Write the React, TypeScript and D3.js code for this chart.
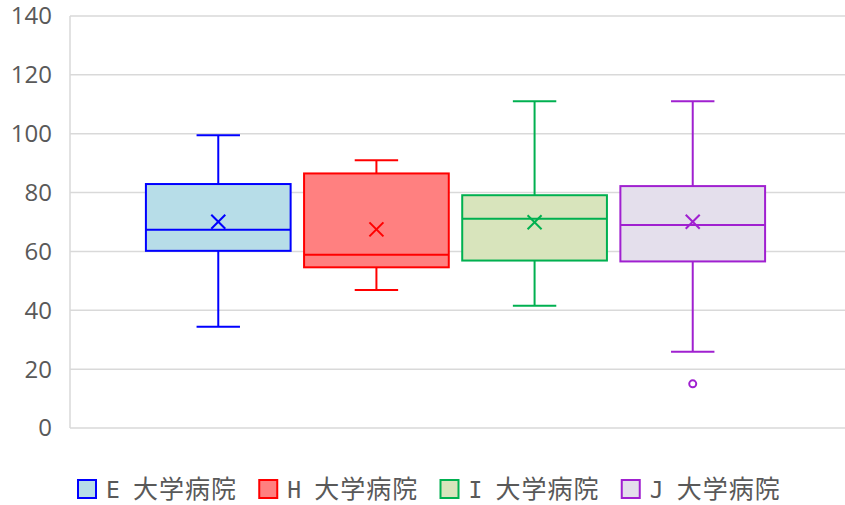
import React from 'react';
import * as d3 from 'd3';

const series = ['E 大学病院', 'H 大学病院', 'I 大学病院', 'J 大学病院'];
const mins = [34.4, 46.9, 41.5, 25.9];
const q1s = [60.2, 54.6, 56.9, 56.6];
const medians = [67.4, 58.9, 71.1, 69.0];
const q3s = [82.9, 86.5, 79.1, 82.2];
const maxs = [99.5, 91.0, 111.0, 111.0];
const means = [70.1, 67.5, 69.9, 70.1];
const outliers = [[], [], [], [15.0]];
const strokes = ['#0000ff', '#ff0000', '#00b050', '#a020d0'];
const fills = ['#b7dde8', '#ff8080', '#d8e4bc', '#e4dfec'];
const yTicks = [0, 20, 40, 60, 80, 100, 120, 140];

const W = 845;
const H = 505;
const left = 70;
const right = 841;
const top = 16;
const bottom = 428;
const font = '"Open Sans", "Noto Sans CJK JP", sans-serif';

const App = () => {
  const y = d3.scaleLinear().domain([0, 140]).range([bottom, top]);
  const x = d3.scaleBand<string>()
    .domain(series)
    .range([left, right])
    .paddingInner(0.085)
    .paddingOuter(0.48);
  const bw = x.bandwidth();
  const cap = bw * 0.3;

  // legend entries laid out on their own band scale
  const lx = d3.scaleBand<string>().domain(series).range([77, 802]);

  return (
    <svg width={W} height={H} style={{ position: 'absolute', left: 0, top: 0 }}>
      <rect width={W} height={H} fill="#fff" />
      {yTicks.map(t => (
        <g key={t}>
          <line x1={left} x2={W} y1={y(t)} y2={y(t)} stroke="#d9d9d9" strokeWidth={1.5} />
          <text x={52} y={y(t)} dy="0.35em" textAnchor="end" fontSize={24} fill="#595959" fontFamily={font}>
            {t}
          </text>
        </g>
      ))}
      <line x1={left} x2={left} y1={top} y2={bottom} stroke="#d9d9d9" strokeWidth={1.5} />
      {series.map((s, i) => {
        const x0 = x(s)!;
        const cx = x0 + bw / 2;
        const c = strokes[i];
        const my = y(means[i]);
        const m = 7;
        return (
          <g key={s} stroke={c} strokeWidth={2}>
            <line x1={cx} x2={cx} y1={y(maxs[i])} y2={y(q3s[i])} />
            <line x1={cx} x2={cx} y1={y(q1s[i])} y2={y(mins[i])} />
            <line x1={cx - cap / 2} x2={cx + cap / 2} y1={y(maxs[i])} y2={y(maxs[i])} />
            <line x1={cx - cap / 2} x2={cx + cap / 2} y1={y(mins[i])} y2={y(mins[i])} />
            <rect x={x0} y={y(q3s[i])} width={bw} height={y(q1s[i]) - y(q3s[i])} fill={fills[i]} />
            <line x1={x0} x2={x0 + bw} y1={y(medians[i])} y2={y(medians[i])} />
            <line x1={cx - m} x2={cx + m} y1={my - m} y2={my + m} />
            <line x1={cx - m} x2={cx + m} y1={my + m} y2={my - m} />
            {outliers[i].map((o, j) => (
              <circle key={j} cx={cx} cy={y(o)} r={3.5} fill="#fff" />
            ))}
          </g>
        );
      })}
      {series.map((s, i) => {
        const [letter, rest] = s.split(' ');
        return (
          <g key={s} transform={`translate(${lx(s)},489)`}>
            <rect x={1} y={-9} width={18} height={18} fill={fills[i]} stroke={strokes[i]} strokeWidth={2} />
            <text y={0} dy="0.35em" fontSize={25} fill="#595959" fontFamily={font}>
              <tspan x={36} textAnchor="middle" fontFamily='"DejaVu Sans Mono", monospace' fontSize={23}>{letter}</tspan>
              <tspan x={56} letterSpacing={1}>{rest}</tspan>
            </text>
          </g>
        );
      })}
    </svg>
  );
};

export default App;
